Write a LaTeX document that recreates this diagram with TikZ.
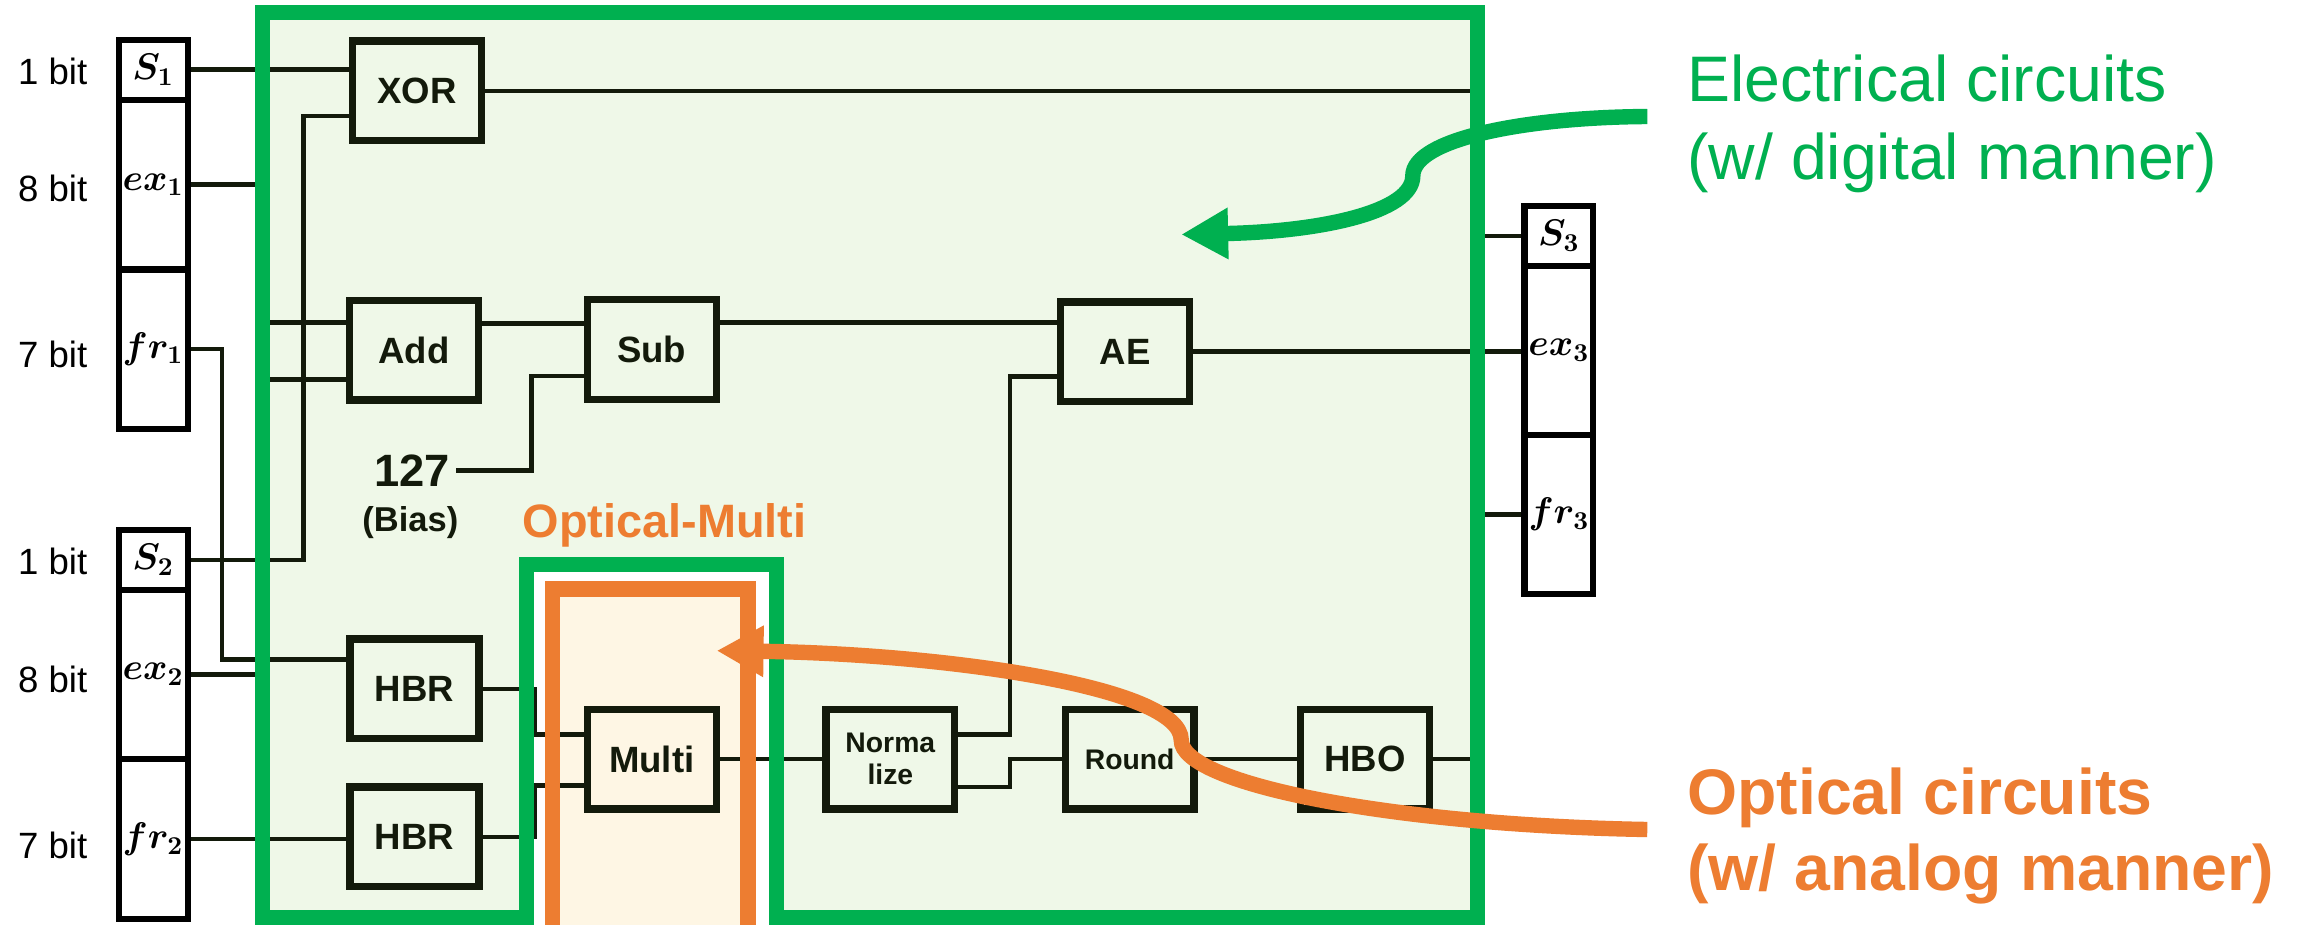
\documentclass[tikz,border=0pt]{standalone}
\usepackage[no-math]{fontspec}
\setmainfont{Liberation Sans}
\usetikzlibrary{calc,arrows.meta}
\newlength\pu \setlength\pu{0.02cm}
\definecolor{egreen}{HTML}{00B050}
\definecolor{efill}{HTML}{EFF8E8}
\definecolor{oorange}{HTML}{ED7D31}
\definecolor{ofill}{HTML}{FEF6E4}
\definecolor{ink}{HTML}{131A0B}
\pgfdeclarelayer{bg}
\pgfdeclarelayer{wires}
\pgfdeclarelayer{borders}
\pgfsetlayers{bg,wires,borders,main}
\tikzset{
  blk/.style={draw=ink, line width=5\pu, fill=efill, minimum width=88\pu, minimum height=68\pu, inner sep=0pt, text=ink, font=\bfseries\fontsize{14.2}{17}\selectfont},
  smallblk/.style={blk, font=\bfseries\fontsize{11}{12.5}\selectfont, align=center},
  reg/.style={draw=black, line width=4.2\pu, fill=white, minimum width=47\pu, inner sep=0pt, font=\boldmath\fontsize{14}{17}\selectfont},
  bitlbl/.style={anchor=base, inner sep=0pt, font=\fontsize{14.2}{17}\selectfont},
  wire/.style={draw=ink, line width=3.1\pu},
  gborder/.style={draw=egreen, line width=10.5\pu},
  oborder/.style={draw=oorange, line width=10.5\pu},
  bigtxt/.style={anchor=base west, inner sep=0pt, font=\fontsize{25}{30}\selectfont},
  annarrow/.style={line width=0.21cm, -{Triangle[length=0.64cm, width=0.66cm]}},
}
\begin{document}
\begin{tikzpicture}[x=0.02cm,y=-0.02cm]
\useasboundingbox (0,0) rectangle (1568,631);

% ---------- registers ----------
\node[reg, minimum height=41.1\pu]  (S1)  at (104.5,47.6)  {$S_1$};
\node[reg, minimum height=115.6\pu] (ex1) at (104.5,126)   {$ex_1$};
\node[reg, minimum height=108.7\pu] (fr1) at (104.5,238.2) {$fr_1$};
\node[reg, minimum height=41.2\pu]  (S2)  at (104.5,382)   {$S_2$};
\node[reg, minimum height=115.3\pu] (ex2) at (104.5,460.2) {$ex_2$};
\node[reg, minimum height=109.4\pu] (fr2) at (104.5,572.6) {$fr_2$};
\node[reg, minimum height=40.8\pu]  (S3)  at (1063.7,160.9) {$S_3$};
\node[reg, minimum height=115.5\pu] (ex3) at (1063.7,239)  {$ex_3$};
\node[reg, minimum height=108.5\pu] (fr3) at (1063.7,351)  {$fr_3$};

\node[bitlbl] (b1) at (36,58)    {1 bit};
\node[bitlbl] (b2) at (36,137.6) {8 bit};
\node[bitlbl] (b3) at (36,251)   {7 bit};
\node[bitlbl] (b4) at (36,392)   {1 bit};
\node[bitlbl] (b5) at (36,472.6) {8 bit};
\node[bitlbl] (b6) at (36,585.6) {7 bit};

% ---------- blocks ----------
\node[blk] (XOR)   at (284.5,62)    {XOR};
\node[blk] (Add)   at (282.5,239)   {Add};
\node[blk] (Sub)   at (444.7,238.5) {Sub};
\node[blk] (AE)    at (767.7,240)   {AE};
\node[blk] (HBR1)  at (282.8,470)   {HBR};
\node[blk] (HBR2)  at (282.8,571)   {HBR};
\node[blk, fill=ofill] (Multi) at (444.7,518) {Multi};
\node[smallblk] (Norm)  at (607.5,518) {Norma\\lize};
\node[smallblk] (Round) at (770.8,518) {Round};
\node[blk] (HBO)   at (931.5,518)   {HBO};

\node[anchor=base, inner xsep=4\pu, inner ysep=0pt, text=ink, font=\bfseries\fontsize{17.6}{20}\selectfont] (b127) at (281,332) {127};
\node[anchor=base, inner sep=0pt, text=ink, font=\bfseries\fontsize{13.4}{16}\selectfont] (bias) at (280,362.8) {(Bias)};
\node[anchor=base, inner sep=0pt, text=oorange, font=\bfseries\fontsize{18.2}{21}\selectfont] (omlbl) at (453.5,367) {Optical-Multi};

\node[bigtxt, text=egreen] (el1) at (1151,69.5)  {Electrical circuits};
\node[bigtxt, text=egreen] (el2) at (1151,122.8) {(w/ digital manner)};
\node[bigtxt, text=oorange, font=\bfseries\fontsize{25}{30}\selectfont] (op1) at (1151,556) {Optical circuits};
\node[bigtxt, text=oorange, font=\bfseries\fontsize{25}{30}\selectfont] (op2) at (1151,607.3) {(w/ analog manner)};

% ---------- helper coordinates ----------
\coordinate (jx) at (207,0);
\coordinate (bl) at (179,0);
\coordinate (br) at (1008,0);
\coordinate (jf) at (151.4,0);
\coordinate (jb) at (362.7,0);
\coordinate (jm) at (364.7,0);
\coordinate (jn) at (689,0);
\coordinate (xorB) at ($(XOR.west)+(0,17)$);
\coordinate (addA) at ($(Add.west)+(0,-19)$);
\coordinate (addB) at ($(Add.west)+(0,20)$);
\coordinate (addO) at ($(Add.east)+(0,-18.4)$);
\coordinate (subB) at ($(Sub.west)+(0,18)$);
\coordinate (subO) at ($(Sub.east)+(0,-18.3)$);
\coordinate (aeB)  at ($(AE.west)+(0,17)$);
\coordinate (hbrA) at ($(HBR1.west)+(0,-20)$);
\coordinate (mulA) at ($(Multi.west)+(0,-17)$);
\coordinate (mulB) at ($(Multi.west)+(0,18)$);
\coordinate (norA) at ($(Norm.east)+(0,-17)$);
\coordinate (norB) at ($(Norm.east)+(0,19)$);

% ---------- background fills ----------
\begin{pgfonlayer}{bg}
\fill[white] (0,0) rectangle (1568,631);
\fill[efill] (179,8.7) -- (1008,8.7) -- (1008,626) -- (530,626) -- (530,385) -- (359.4,385) -- (359.4,626) -- (179,626) -- cycle;
\fill[ofill] (377,402) rectangle (510.5,631);
\end{pgfonlayer}

% ---------- wires ----------
\begin{pgfonlayer}{wires}
\draw[wire] (S1.east) -- (S1.east -| XOR.west);
\draw[wire] (S2.east) -| (jx |- xorB) -- (xorB);
\draw[wire] (ex1.east) -| (bl |- addA) -- (addA);
\draw[wire] (ex2.east) -| (bl |- addB) -- (addB);
\draw[wire] (fr1.east) -| (jf |- hbrA) -- (hbrA);
\draw[wire] (fr2.east) -- (fr2.east -| HBR2.west);
\draw[wire] (addO) -- (addO -| Sub.west);
\draw[wire] (b127.east) -| (jb |- subB) -- (subB);
\draw[wire] (subO) -- (subO -| AE.west);
\draw[wire] (AE.east) -- (AE.east -| ex3.west);
\draw[wire] (XOR.east) -| (br |- S3.west) -- (S3.west);
\draw[wire] (HBR1.east) -| (jm |- mulA) -- (mulA);
\draw[wire] (HBR2.east) -| (jm |- mulB) -- (mulB);
\draw[wire] (Multi.east) -- (Norm.west);
\draw[wire] (norA) -| (jn |- aeB) -- (aeB);
\draw[wire] (norB) -| (jn |- Round.west) -- (Round.west);
\draw[wire] (Round.east) -- (HBO.west);
\draw[wire] (HBO.east) -| (br |- fr3.west) -- (fr3.west);
\end{pgfonlayer}

% ---------- region borders ----------
\begin{pgfonlayer}{borders}
\draw[gborder] (179,8.7) -- (1008,8.7) -- (1008,626) -- (530,626) -- (530,385) -- (359.4,385) -- (359.4,626) -- (179,626) -- cycle;
\draw[oborder] (377,640) -- (377,402) -- (510.5,402) -- (510.5,640);
\end{pgfonlayer}

% ---------- annotation arrows ----------
\coordinate (gS) at (1124,79.5);
\coordinate (gT) at (806,160);
\coordinate (oS) at (1124,566);
\coordinate (oT) at (489,444);
\draw[annarrow, draw=egreen]
  (gS) .. controls (1040,80) and (964,95) .. (964,120)
       .. controls (964,145) and (900,158) .. (gT);
\draw[annarrow, draw=oorange]
  (oS) .. controls (950,563) and (806,535) .. (806,505)
       .. controls (806,468) and (640,446) .. (oT);
\end{tikzpicture}
\end{document}
